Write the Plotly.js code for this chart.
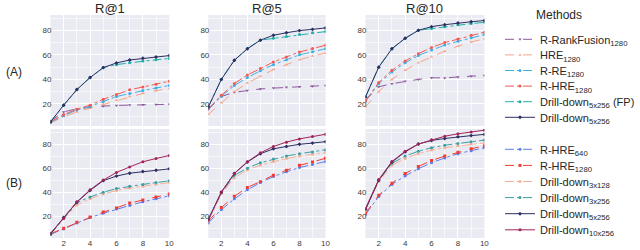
<!DOCTYPE html>
<html><head><meta charset="utf-8">
<script src="https://cdn.plot.ly/plotly-3.0.1.min.js"></script>
<style>html,body{margin:0;padding:0;background:#fff}#chart{width:640px;height:250px}</style>
</head><body><div id="chart"></div>
<script>
const ks = [1,2,3,4,5,6,7,8,9,10];
const metrics = ["R@1","R@5","R@10"];
const rowLabels = ["(A)","(B)"];
const xTicks = [2,4,6,8,10];
const yTicks = [20,40,60,80];

// Row A series: [R@1, R@5, R@10]
const A_rankFusion1280 = [
  [6,13.5,16,17.2,18.2,18.8,19.1,19.4,19.6,19.7],
  [15.5,26,29.5,31,32.2,32.9,33.5,34,34.5,35],
  [23,34,36.5,38.5,40,41.3,41.2,42,42.5,43.2]];
const A_hre1280 = [
  [4.5,9.5,13.5,16.5,20,23,26,28.5,30.8,32.5],
  [11.5,21,30,37,42.5,48,52,56,59,61.5],
  [17.5,30,40,47.5,53.5,58.5,63,67,70.5,73]];
const A_rre1280 = [
  [5,10.5,15,18,22,26,28.5,31,33,35],
  [16,26,35,41.5,47,52,56,60,62.5,65],
  [22,36.5,46,53.5,59.5,64,68,71,74,76.5]];
const A_rhre1280 = [
  [5.5,11.3,15.7,19,23.8,27.6,31.5,33.8,36,38.5],
  [16.2,27,36.6,43.6,48.8,54.2,58.3,62.3,65.1,67.8],
  [22.5,37.5,47.5,55,61,66,70,73,76,78.5]];
const A_drill5x256FP = [
  [5.3,19,31.7,41.5,49.6,52,53.5,55,56,57],
  [17.5,40,55.6,65,72,73.5,75,76.5,78,79],
  [25.7,50,65,73.5,80,81.5,83,84.5,85.5,86.5]];
const A_drill5x256 = [
  [5.3,19,31.7,41.5,49.6,53.4,55.8,57.2,58.3,59.4],
  [17.5,40,55.6,65,72,76,78,79.8,80.8,82],
  [25.7,50,65,73.5,80,83,84.6,86,87,88]];

// Row B series
const B_rhre640 = [
  [5,9.5,14.5,19,22.5,26,29,32,34.5,37],
  [14.5,25.5,34.5,42,48,53,57,60.5,63,65.5],
  [21.5,36.5,46.5,53.5,59.5,64.5,68.5,72,74.5,77]];
const B_rhre1280 = [
  [5.5,10,15,19.5,23.5,27,31,33.5,36,38.5],
  [16.2,27.3,36.6,44,48.8,54.2,58.3,62.3,65.1,68.2],
  [22.5,37.5,47.5,55.6,61.3,66.4,70,73.2,76,78.6]];
const B_drill3x128 = [
  [5,18,29.5,34.5,38.5,41.5,43.5,45,46.5,48],
  [16,38.5,52,58.5,62.5,65.5,68,70,71.5,73],
  [25,49,62.5,68,72,75,77,78.5,80,81]];
const B_drill3x256 = [
  [5,18.5,31.5,36,40,43,45,46.5,48,49.5],
  [17,39.5,54,60,64.5,67.5,70,72,73.5,75.2],
  [26,50,64,70,74,77,79,80.5,82,83.3]];
const B_drill5x256 = A_drill5x256;
const B_drill10x256 = [
  [6,18.4,32,42,50.1,56.4,61,65.3,68,70.5],
  [17,40.1,55.6,65.3,72.7,78,81.6,84.3,86.2,88.1],
  [26.5,50.5,65.5,74,80,83.5,86.5,88.5,90,91.5]];

const seriesA = [
  {name:"R-RankFusion<sub>1280</sub>", data:A_rankFusion1280, color:"#8e5b9e", dash:"dash", symbol:"triangle-down"},
  {name:"HRE<sub>1280</sub>", data:A_hre1280, color:"#f6a588", dash:"dash", symbol:"triangle-up"},
  {name:"R-RE<sub>1280</sub>", data:A_rre1280, color:"#3fb0e6", dash:"dashdot", symbol:"circle"},
  {name:"R-HRE<sub>1280</sub>", data:A_rhre1280, color:"#f25a52", dash:"dashdot", symbol:"circle"},
  {name:"Drill-down<sub>5x256</sub> (FP)", data:A_drill5x256FP, color:"#1fb0a8", dash:"dashdot", symbol:"circle"},
  {name:"Drill-down<sub>5x256</sub>", data:A_drill5x256, color:"#2b2f62", dash:"solid", symbol:"diamond"}];
const seriesB = [
  {name:"R-HRE<sub>640</sub>", data:B_rhre640, color:"#5a80f0", dash:"dashdot", symbol:"circle"},
  {name:"R-HRE<sub>1280</sub>", data:B_rhre1280, color:"#f23c32", dash:"dash", symbol:"square"},
  {name:"Drill-down<sub>3x128</sub>", data:B_drill3x128, color:"#f7b094", dash:"dashdot", symbol:"circle"},
  {name:"Drill-down<sub>3x256</sub>", data:B_drill3x256, color:"#3a9fa3", dash:"dashdot", symbol:"circle"},
  {name:"Drill-down<sub>5x256</sub>", data:B_drill5x256, color:"#2b2f62", dash:"solid", symbol:"diamond"},
  {name:"Drill-down<sub>10x256</sub>", data:B_drill10x256, color:"#a2245a", dash:"solid", symbol:"circle"}];

const W = 640, H = 250;
const colPx = [[51.7,173.3],[213.3,333.3],[374.3,496]];
const rowPx = [[15,126],[129,238]];
const traces = [];
function addRow(series, row, legendId) {
  series.forEach(s => {
    for (let c = 0; c < 3; c++) {
      const idx = row*3 + c + 1;
      traces.push({
        x: ks, y: s.data[c], type: "scatter", mode: "lines+markers",
        name: s.name, legend: legendId, showlegend: c === 0,
        xaxis: idx === 1 ? "x" : "x" + idx, yaxis: idx === 1 ? "y" : "y" + idx,
        line: {color: s.color, width: 1, dash: s.dash},
        marker: {color: s.color, size: 3, symbol: s.symbol},
        hoverinfo: "skip"
      });
    }
  });
}
addRow(seriesA, 0, "legend");
addRow(seriesB, 1, "legend2");

const font = {family: "Liberation Sans, Arial, sans-serif", color: "#262626"};
const tickFont = {family: "Liberation Sans, Arial, sans-serif", color: "#3a3a3a", size: 8};
const legendX = 512/W;
const layout = {
  width: W, height: H, margin: {l:0, r:0, t:0, b:0},
  paper_bgcolor: "#ffffff", plot_bgcolor: "#eaeaf2",
  font: Object.assign({size: 9}, font),
  annotations: [],
  legend: {x: legendX, y: 1 - 25/H, xanchor: "left", yanchor: "top", bgcolor: "rgba(0,0,0,0)",
           font: Object.assign({size: 11}, font), itemwidth: 30, tracegroupgap: 0},
  legend2: {x: legendX, y: 0, xanchor: "left", yanchor: "bottom", bgcolor: "rgba(0,0,0,0)",
           font: Object.assign({size: 11}, font), itemwidth: 30, tracegroupgap: 0}
};
for (let r = 0; r < 2; r++) {
  for (let c = 0; c < 3; c++) {
    const idx = r*3 + c + 1;
    const xk = idx === 1 ? "xaxis" : "xaxis" + idx;
    const yk = idx === 1 ? "yaxis" : "yaxis" + idx;
    layout[xk] = {
      domain: [colPx[c][0]/W, colPx[c][1]/W], anchor: idx === 1 ? "y" : "y" + idx,
      range: [1, 10], tickvals: xTicks, showticklabels: r === 1,
      showgrid: true, gridcolor: "#ffffff", gridwidth: 1, zeroline: false, showline: false,
      ticks: "", tickfont: tickFont, ticklabelstandoff: -1,
      minor: {dtick: 1, tick0: 1, showgrid: true, gridcolor: "#ffffff", gridwidth: 0.6}
    };
    layout[yk] = {
      domain: [1 - rowPx[r][1]/H, 1 - rowPx[r][0]/H], anchor: idx === 1 ? "x" : "x" + idx,
      range: [2, 92.5], tickvals: yTicks,
      showgrid: true, gridcolor: "#ffffff", gridwidth: 1, zeroline: false, showline: false,
      ticks: "", tickfont: tickFont, ticklabelstandoff: -2,
      minor: {dtick: 10, tick0: 0, showgrid: true, gridcolor: "#ffffff", gridwidth: 0.6}
    };
  }
}
metrics.forEach((m, c) => {
  layout.annotations.push({text: m, xref: "paper", yref: "paper",
    x: (colPx[c][0] + colPx[c][1]) / 2 / W, y: 1 - 8/H, xanchor: "center", yanchor: "middle",
    showarrow: false, font: Object.assign({size: 13}, font)});
});
rowLabels.forEach((t, r) => {
  layout.annotations.push({text: t, xref: "paper", yref: "paper",
    x: 14/W, y: 1 - (r === 0 ? 72 : 183)/H, xanchor: "center", yanchor: "middle",
    showarrow: false, font: Object.assign({size: 12}, font)});
});
layout.annotations.push({text: "Methods", xref: "paper", yref: "paper",
  x: 547/W, y: 1 - 15/H, xanchor: "left", yanchor: "middle",
  showarrow: false, font: Object.assign({size: 12}, font)});

// legend entry spacing as in the reference (first entry centre, step) in px
const legendSpacing = {legend: [39.3, 15.6], legend2: [149.3, 16.1]};

Plotly.newPlot("chart", traces, layout, {staticPlot: true, displayModeBar: false}).then(gd => {
  const top = gd.getBoundingClientRect().top;
  Object.keys(legendSpacing).forEach(id => {
    const lg = gd.querySelector("g.infolayer > g." + id);
    if (!lg) return;
    const items = lg.querySelectorAll("g.traces");
    if (!items.length) return;
    const tr = t => {
      const m = /translate\(\s*([-\d.eE]+)[ ,]+([-\d.eE]+)\s*\)/.exec(t.getAttribute("transform") || "");
      return m ? [parseFloat(m[1]), parseFloat(m[2])] : [0, 0];
    };
    const [x0, y0] = tr(items[0]);
    const ln = items[0].querySelector(".legendlines path") || items[0];
    const b = ln.getBoundingClientRect();
    const actual0 = b.top + b.height / 2 - top;
    const [want0, step] = legendSpacing[id];
    items.forEach((it, i) => {
      it.setAttribute("transform", "translate(" + x0 + "," + (y0 + (want0 - actual0) + i * step) + ")");
    });
  });
});
</script></body></html>
